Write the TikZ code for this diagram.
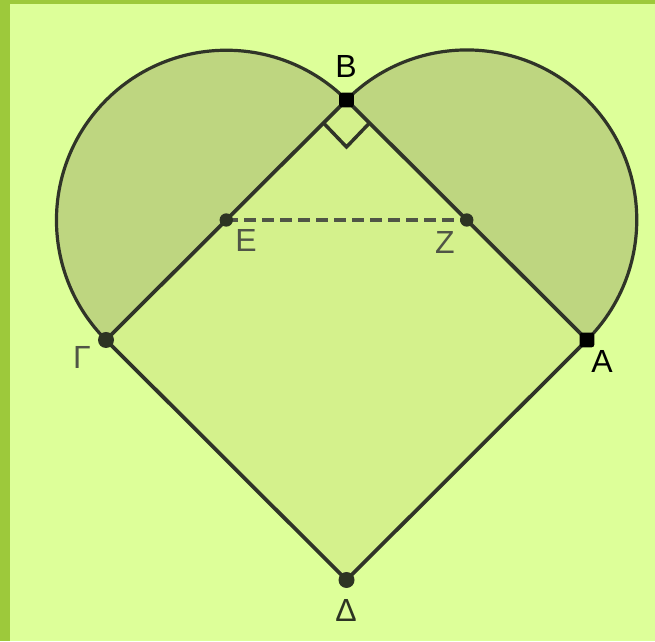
\documentclass[tikz,border=0pt]{standalone}
\usepackage{fontspec}
\setmainfont{Liberation Sans}
\definecolor{bgc}{RGB}{221,255,153}
\definecolor{frame}{RGB}{157,201,59}
\definecolor{sqfill}{RGB}{212,241,140}
\definecolor{arcfill}{RGB}{190,214,128}
\definecolor{ink}{RGB}{48,52,40}
\definecolor{dotc}{RGB}{45,52,35}
\definecolor{lblgray}{RGB}{80,85,70}
\begin{document}
\begin{tikzpicture}[x=0.75pt,y=0.75pt,
  edge/.style={draw=ink,line width=2.8pt},
  pt/.style={circle,fill=dotc,inner sep=0pt,minimum size=12pt},
  ptsmall/.style={circle,fill=dotc,inner sep=0pt,minimum size=10pt},
  ptblack/.style={rectangle,rounded corners=2pt,fill=black,inner sep=0pt,minimum size=11pt},
  lbl/.style={font=\fontsize{24}{24}\selectfont,inner sep=0pt}]
\useasboundingbox (0,0) rectangle (655,641);
\fill[bgc] (0,0) rectangle (655,641);
\fill[frame] (0,0) rectangle (10,641);
\fill[frame] (0,637) rectangle (655,641);
\coordinate (B) at (346.5,541);
\coordinate (G) at (106,301);
\coordinate (A) at (587,301);
\coordinate (D) at (346.5,61);
\coordinate (E) at (226.25,421);
\coordinate (Z) at (466.75,421);
% semicircles
\fill[arcfill] (B) arc[start angle=45,end angle=225,radius=169.9] -- cycle;
\fill[arcfill] (A) arc[start angle=-45,end angle=135,radius=169.9] -- cycle;
\draw[ink,line width=2.4pt] (B) arc[start angle=45,end angle=225,radius=169.9];
\draw[ink,line width=2.4pt] (A) arc[start angle=-45,end angle=135,radius=169.9];
% square
\fill[sqfill] (B) -- (A) -- (D) -- (G) -- cycle;
\draw[edge,line join=round] (B) -- (A) -- (D) -- (G) -- cycle;
% right angle mark
\coordinate (m1) at (324,517.5);
\coordinate (m2) at (346.5,494);
\coordinate (m3) at (369,517.5);
\draw[ink,line width=2.6pt] (m1) -- (m2) -- (m3);
% dashed
\draw[lblgray,line width=2.8pt,dash pattern=on 9pt off 4.5pt] (E) -- (Z);
% points
\node[ptblack] (pB) at (B) {};
\node[ptblack] (pA) at (A) {};
\node[pt] (pG) at (G) {};
\node[pt] (pD) at (D) {};
\node[ptsmall] (pE) at (E) {};
\node[ptsmall] (pZ) at (Z) {};
% labels
\node[lbl,text=black] (lB) at (346,574) {B};
\node[lbl,text=black] (lA) at (602,280) {A};
\node[lbl,text=lblgray] (lG) at (82,284) {Γ};
\node[lbl,text=dotc] (lD) at (346,31) {Δ};
\node[lbl,text=lblgray] (lE) at (246,400) {E};
\node[lbl,text=lblgray] (lZ) at (445,398) {Z};
\end{tikzpicture}
\end{document}
